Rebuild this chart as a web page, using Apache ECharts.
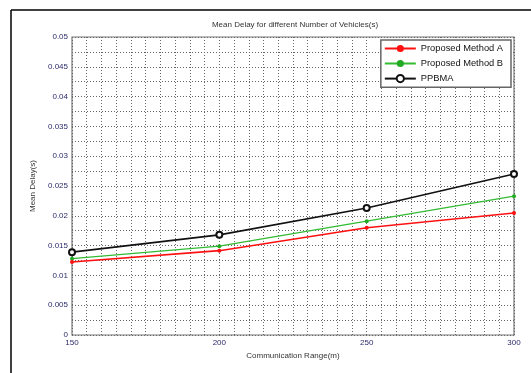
<!DOCTYPE html>
<html><head><meta charset="utf-8">
<script src="https://cdn.jsdelivr.net/npm/echarts@6/dist/echarts.min.js"></script>
<style>html,body{margin:0;padding:0;background:#fff}#c{width:531px;height:373px}</style>
</head><body><div id="c"></div>
<script>
const ranges = [150, 200, 250, 300];
const methodA = [0.01225, 0.01415, 0.0180, 0.02047];
const methodB = [0.0128, 0.0149, 0.0191, 0.0233];
const ppbma = [0.0139, 0.0168, 0.0213, 0.0270];
const xTickLabels = [150, 200, 250, 300];
const yTickLabels = [0, 0.005, 0.01, 0.015, 0.02, 0.025, 0.03, 0.035, 0.04, 0.045, 0.05];

const pair = arr => ranges.map((x, i) => [x, arr[i]]);
const chart = echarts.init(document.getElementById('c'));
const tickColor = '#2b2b6b';
const gridLine = {show: true, lineStyle: {color: '#666', type: [1, 2], width: 1}};
chart.setOption({
  animation: false,
  backgroundColor: '#fff',
  title: {
    text: 'Mean Delay for different Number of Vehicles(s)',
    left: 290, top: 16, textAlign: 'center',
    textStyle: {fontFamily: 'Liberation Sans', fontSize: 8, fontWeight: 'normal', color: '#333'}
  },
  legend: {
    right: 20, top: 40, orient: 'vertical', itemGap: 6,
    itemWidth: 31, itemHeight: 9,
    backgroundColor: '#fff', borderColor: '#666', borderWidth: 1.5,
    padding: [4, 8, 4, 3],
    textStyle: {fontFamily: 'Liberation Sans', fontSize: 9.3, color: '#111'},
    data: ['Proposed Method A', 'Proposed Method B', 'PPBMA']
  },
  grid: {left: 72, right: 17, top: 37, bottom: 38, show: true, borderColor: '#777', borderWidth: 1.2},
  xAxis: {
    type: 'value', min: 150, max: 300, interval: 5,
    name: 'Communication Range(m)', nameLocation: 'middle', nameGap: 17,
    nameTextStyle: {fontFamily: 'Liberation Sans', fontSize: 8, color: '#333'},
    axisLine: {show: false}, axisTick: {show: false},
    axisLabel: {
      formatter: v => xTickLabels.includes(v) ? String(v) : '',
      fontFamily: 'Liberation Sans', fontSize: 8, color: tickColor, margin: 4
    },
    splitLine: gridLine
  },
  yAxis: {
    type: 'value', min: 0, max: 0.05, interval: 0.0025,
    name: 'Mean Delay(s)', nameLocation: 'middle', nameGap: 32, nameRotate: 90,
    nameTextStyle: {fontFamily: 'Liberation Sans', fontSize: 8, color: '#333'},
    axisLine: {show: false}, axisTick: {show: false},
    axisLabel: {
      formatter: v => {
        const r = Number(v.toFixed(4));
        return yTickLabels.some(t => Math.abs(t - r) < 1e-9) ? String(r) : '';
      },
      fontFamily: 'Liberation Sans', fontSize: 8, color: tickColor, margin: 4
    },
    splitLine: gridLine
  },
  series: [
    {name: 'Proposed Method A', type: 'line', data: pair(methodA),
     symbol: 'circle', symbolSize: 4,
     lineStyle: {width: 1.6, color: '#ff1010'}, itemStyle: {color: '#ff1010'}, z: 4},
    {name: 'Proposed Method B', type: 'line', data: pair(methodB),
     symbol: 'circle', symbolSize: 4,
     lineStyle: {width: 1.2, color: '#33bb33'}, itemStyle: {color: '#22aa22'}, z: 3},
    {name: 'PPBMA', type: 'line', data: pair(ppbma),
     symbol: 'emptyCircle', symbolSize: 6,
     lineStyle: {width: 1.6, color: '#111'}, itemStyle: {color: '#111', borderColor: '#111', borderWidth: 1.3}, z: 5}
  ],
  graphic: [
    {type: 'line', shape: {x1: 11, y1: 10, x2: 531, y2: 10}, style: {stroke: '#000', lineWidth: 1.5}},
    {type: 'line', shape: {x1: 11, y1: 10, x2: 11, y2: 373}, style: {stroke: '#000', lineWidth: 1.5}}
  ]
});
</script></body></html>
